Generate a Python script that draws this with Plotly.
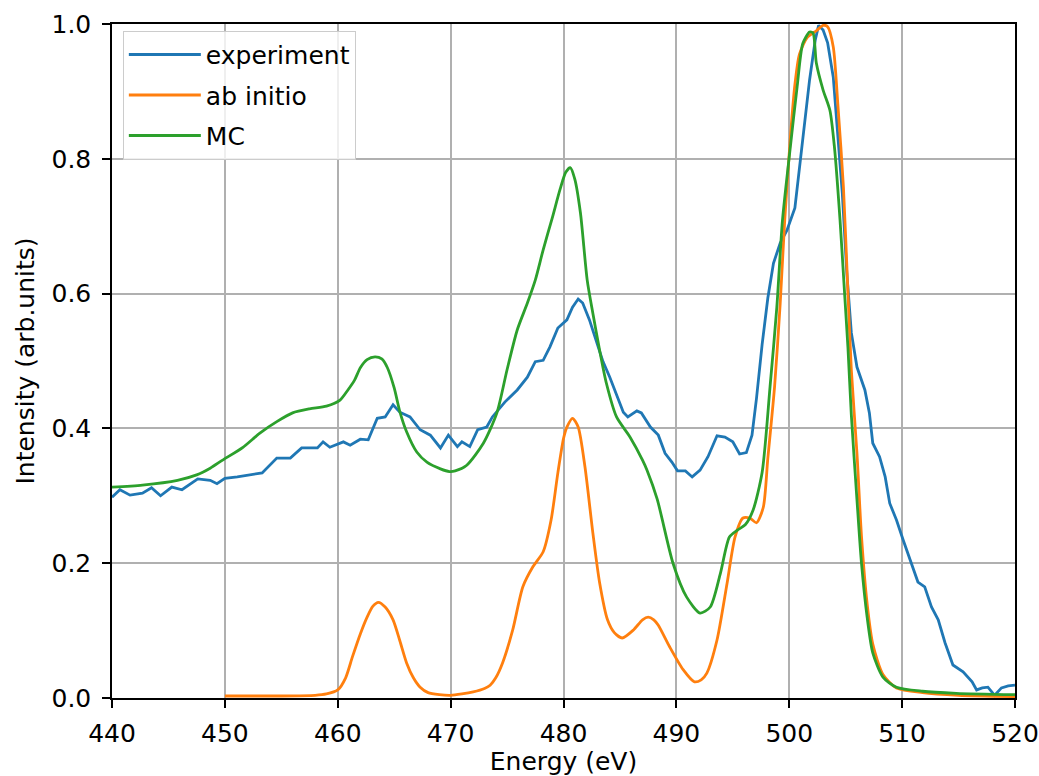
import plotly.graph_objects as go

# ---------------- data ----------------
exp_e = [440.0, 440.7, 441.6, 442.7, 443.5, 444.3, 445.3, 446.2, 447.6, 448.7, 449.3, 450.0,
         451.1, 452.2, 453.3, 454.6, 455.8, 456.8, 458.2, 458.7, 459.3, 460.5, 461.1, 462.0,
         462.7, 463.5, 464.2, 464.9, 465.5, 466.4, 467.3, 468.2, 469.1, 469.8, 470.6, 471.0,
         471.7, 472.4, 473.2, 473.7, 474.8, 475.9, 476.8, 477.5, 478.2, 478.8, 479.5, 480.3,
         480.8, 481.3, 481.7, 482.3, 482.9, 483.5, 484.1, 484.7, 485.3, 485.7, 486.5, 486.9,
         487.7, 488.4, 489.0, 489.6, 490.1, 490.8, 491.4, 492.1, 492.8, 493.6, 494.3, 495.0,
         495.6, 496.2, 496.7, 497.1, 497.6, 498.1, 498.6, 499.2, 499.8, 500.5, 500.9, 501.4,
         501.8, 502.3, 502.6, 503.0, 503.4, 503.9, 504.2, 504.7, 505.1, 505.5, 506.0, 506.7,
         507.1, 507.4, 508.0, 508.5, 508.9, 509.5, 510.1, 510.7, 511.4, 512.0, 512.6, 513.2,
         513.8, 514.5, 515.4, 516.2, 516.6, 517.1, 517.6, 518.2, 518.8, 519.4, 520.0]
exp_v = [0.298, 0.309, 0.301, 0.304, 0.312, 0.300, 0.313, 0.309, 0.325, 0.323, 0.318, 0.326,
         0.328, 0.331, 0.334, 0.356, 0.356, 0.371, 0.371, 0.380, 0.372, 0.380, 0.375, 0.384,
         0.383, 0.415, 0.417, 0.435, 0.424, 0.417, 0.398, 0.390, 0.371, 0.390, 0.373, 0.380,
         0.373, 0.398, 0.402, 0.417, 0.439, 0.457, 0.476, 0.499, 0.501, 0.521, 0.549, 0.561,
         0.580, 0.592, 0.586, 0.561, 0.531, 0.499, 0.476, 0.450, 0.424, 0.417, 0.426, 0.423,
         0.402, 0.390, 0.363, 0.350, 0.337, 0.337, 0.328, 0.338, 0.358, 0.389, 0.387, 0.380,
         0.362, 0.364, 0.390, 0.445, 0.525, 0.593, 0.645, 0.675, 0.694, 0.727, 0.783, 0.853,
         0.917, 0.976, 0.998, 0.991, 0.972, 0.921, 0.858, 0.749, 0.631, 0.542, 0.491, 0.457,
         0.423, 0.378, 0.358, 0.328, 0.289, 0.264, 0.234, 0.205, 0.172, 0.165, 0.135, 0.116,
         0.082, 0.049, 0.039, 0.024, 0.012, 0.015, 0.016, 0.004, 0.015, 0.018, 0.019]

abi_e = [450.0, 455.0, 458.0, 459.0, 460.0, 460.7, 461.3, 462.0, 462.6, 463.1, 463.6, 464.2,
         464.9, 465.5, 466.1, 466.7, 467.3, 468.0, 469.0, 470.0, 471.0, 472.0, 473.0, 473.5,
         474.0, 474.6, 475.5, 476.4, 477.3, 478.2, 478.9, 479.5, 480.0, 480.3, 480.8, 481.3,
         481.9, 482.6, 483.2, 483.9, 484.5, 485.2, 486.2, 487.0, 487.5, 488.0, 488.4, 489.4,
         490.6, 491.6, 492.2, 492.7, 493.6, 494.5, 495.2, 495.9, 496.5, 497.1, 497.7, 498.1,
         498.7, 499.2, 499.6, 500.1, 500.5, 500.9, 501.6, 502.4, 503.0, 503.4, 503.9, 504.3,
         504.8, 505.2, 505.5, 506.0, 506.4, 506.9, 507.4, 508.3, 509.5, 511.8, 515.0, 520.0]
abi_v = [0.003, 0.003, 0.004, 0.006, 0.012, 0.030, 0.061, 0.095, 0.120, 0.136, 0.142, 0.135,
         0.116, 0.085, 0.052, 0.030, 0.016, 0.008, 0.005, 0.004, 0.006, 0.009, 0.014, 0.019,
         0.030, 0.052, 0.101, 0.165, 0.195, 0.217, 0.264, 0.334, 0.385, 0.402, 0.415, 0.402,
         0.343, 0.245, 0.171, 0.116, 0.097, 0.089, 0.101, 0.116, 0.120, 0.116, 0.108, 0.076,
         0.042, 0.024, 0.027, 0.037, 0.086, 0.171, 0.239, 0.267, 0.267, 0.260, 0.283, 0.355,
         0.462, 0.586, 0.709, 0.832, 0.910, 0.955, 0.980, 0.990, 0.998, 0.996, 0.966, 0.882,
         0.758, 0.601, 0.487, 0.363, 0.240, 0.140, 0.080, 0.035, 0.015, 0.008, 0.004, 0.002]

mc_e = [440.0, 442.7, 445.8, 447.5, 448.7, 449.8, 451.6, 453.1, 454.6, 456.0, 457.5, 459.0,
        460.2, 460.9, 461.5, 462.0, 462.6, 463.3, 463.9, 464.4, 465.0, 465.5, 466.1, 467.0,
        467.9, 469.1, 469.9, 470.4, 471.4, 472.9, 474.1, 475.0, 475.9, 476.8, 477.5, 478.2,
        479.0, 479.7, 480.2, 480.6, 481.0, 481.5, 482.1, 482.6, 483.2, 483.8, 484.7, 485.9,
        487.0, 487.4, 488.3, 489.7, 490.9, 492.1, 493.0, 493.9, 494.7, 495.4, 496.1, 496.8,
        497.6, 498.3, 498.9, 499.4, 500.1, 500.7, 501.2, 501.8, 502.1, 502.4, 503.0, 503.6,
        504.0, 504.5, 504.9, 505.2, 505.5, 506.0, 506.4, 506.9, 507.4, 508.3, 509.5, 511.8,
        514.8, 520.0]
mc_v = [0.313, 0.316, 0.323, 0.331, 0.341, 0.353, 0.372, 0.393, 0.410, 0.423, 0.429, 0.433,
        0.442, 0.457, 0.472, 0.490, 0.502, 0.506, 0.503, 0.490, 0.460, 0.425, 0.395, 0.365,
        0.350, 0.340, 0.336, 0.337, 0.345, 0.378, 0.423, 0.487, 0.546, 0.586, 0.620, 0.665,
        0.712, 0.755, 0.780, 0.787, 0.770, 0.720, 0.620, 0.571, 0.516, 0.467, 0.417, 0.387,
        0.353, 0.338, 0.295, 0.200, 0.150, 0.126, 0.135, 0.185, 0.239, 0.249, 0.257, 0.279,
        0.335, 0.462, 0.580, 0.709, 0.818, 0.907, 0.971, 0.988, 0.987, 0.942, 0.902, 0.872,
        0.818, 0.709, 0.601, 0.520, 0.420, 0.294, 0.200, 0.120, 0.067, 0.031, 0.016, 0.010,
        0.007, 0.005]

series_names = ["experiment", "ab initio", "MC"]
series_colors = ["#1f77b4", "#ff7f0e", "#2ca02c"]
x_ticks = [440, 450, 460, 470, 480, 490, 500, 510, 520]
y_ticks = [0.0, 0.2, 0.4, 0.6, 0.8, 1.0]
y_ticklabels = ["0.0", "0.2", "0.4", "0.6", "0.8", "1.0"]

# ---------------- figure ----------------
FONT = "DejaVu Sans"
FS = 25

fig = go.Figure()
for i, (xs, ys, shape) in enumerate([(exp_e, exp_v, "linear"),
                                      (abi_e, abi_v, "spline"),
                                      (mc_e, mc_v, "spline")]):
    line = dict(color=series_colors[i], width=2.8, shape=shape)
    if shape == "spline":
        line["smoothing"] = 0.7
    fig.add_trace(go.Scatter(x=xs, y=ys, mode="lines", name=series_names[i],
                             line=line, legendgroup=f"g{i}"))

axis_common = dict(
    showgrid=True, gridcolor="#b0b0b0", gridwidth=1.5,
    showline=True, linecolor="black", linewidth=1.5, mirror=True,
    ticks="outside", ticklen=8, tickwidth=1.5, tickcolor="black",
    tickfont=dict(family=FONT, size=FS, color="black"),
    zeroline=False, automargin=False, ticklabeloverflow="allow",
)

fig.update_layout(
    width=1039, height=776,
    margin=dict(l=112, r=24, t=24, b=78),
    plot_bgcolor="white", paper_bgcolor="white",
    font=dict(family=FONT, size=FS, color="black"),
    showlegend=True,
    legend=dict(x=0.012, y=0.99, xanchor="left", yanchor="top",
                bgcolor="rgba(255,255,255,0.8)", bordercolor="#cccccc", borderwidth=1,
                font=dict(family=FONT, size=FS, color="black"),
                traceorder="grouped", tracegroupgap=5, itemwidth=72),
    xaxis=dict(range=[440, 520], tickvals=x_ticks, ticklabelstandoff=4,
               title=dict(text="Energy (eV)", standoff=10,
                          font=dict(family=FONT, size=FS, color="black")),
               **axis_common),
    yaxis=dict(range=[0, 1], tickvals=y_ticks, ticktext=y_ticklabels, ticklabelstandoff=6,
               title=dict(text="Intensity (arb.units)", standoff=10,
                          font=dict(family=FONT, size=FS, color="black")),
               **axis_common),
)

fig.write_html("out.html", config={"displayModeBar": False},
               post_script="document.body.style.margin='0';")
